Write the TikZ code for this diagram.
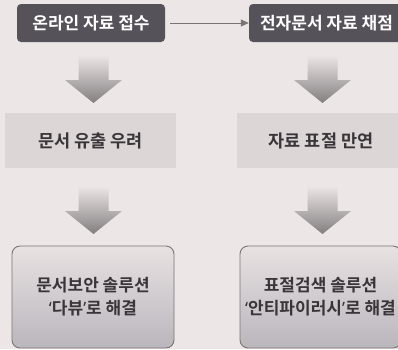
\documentclass[tikz,border=0pt]{standalone}
\usepackage{fontspec}
\setmainfont{Noto Sans CJK KR}[BoldFont={Noto Sans CJK KR Bold}]
\newfontfamily\quotefont{Noto Sans}
\usetikzlibrary{positioning,arrows.meta}
\definecolor{paper}{HTML}{EDE6E7}
\definecolor{darkbox}{HTML}{55525A}
\definecolor{midbox}{HTML}{DCD6D7}
\definecolor{inkgray}{HTML}{3A3538}
\definecolor{linegray}{HTML}{7A7472}
\definecolor{fixlow}{HTML}{B9B6BC}
\newcommand{\openq}{{\quotefont\bfseries ‘}}
\newcommand{\closeq}{{\quotefont\bfseries ’}}

\begin{document}
\begin{tikzpicture}[x=1pt, y=-1pt,
	headbox/.style={fill=darkbox, rounded corners=4pt, text=white, minimum height=38pt,
		inner sep=0pt, font=\fontsize{17}{20}\selectfont\bfseries},
	issuebox/.style={fill=midbox, minimum height=55pt, inner sep=0pt, text=inkgray,
		font=\fontsize{17.5}{20}\selectfont\bfseries},
	fixbox/.style={draw=linegray, line width=0.9pt, rounded corners=8pt, top color=black!2!paper,
		bottom color=fixlow, minimum height=102pt, inner sep=0pt, text=inkgray,
		align=center, font=\fontsize{17}{23}\selectfont\bfseries},
	fatdown/.pic={
		\shade[top color=paper, middle color=black!25!paper, bottom color=black!45!paper]
			(-15,-24) -- (15,-24) -- (15,1) -- (28.5,1) -- (0,24) -- (-28.5,1) -- (-15,1) -- cycle;
	}]
	\useasboundingbox[fill=paper] (0,0) rectangle (398,349);

	% top row
	\node (online) [headbox, minimum width=148pt] at (91,23) {온라인 자료 접수};
	\node (scoring) [headbox, minimum width=155pt] at (326.5,23) {전자문서 자료 채점};
	\draw[linegray, line width=0.8pt, -{Triangle[length=8pt,width=7pt]}] (online.east) ++(5,0) -- (scoring.west);

	% problems
	\node (leak) [issuebox, minimum width=171pt] at (90.5,140.5) {문서 유출 우려};
	\node (copy) [issuebox, minimum width=168pt] at (321,140.5) {자료 표절 만연};

	% solutions
	\node (daview) [fixbox, minimum width=162pt] at (93,297) {문서보안 솔루션\\\openq 다뷰\closeq 로 해결};
	\node (antipiracy) [fixbox, minimum width=161pt] at (320.5,297) {표절검색 솔루션\\\openq 안티파이러시\closeq 로 해결};

	% flow arrows
	\pic (down1) at (93.5,79) {fatdown};
	\pic (down2) at (322.5,79) {fatdown};
	\pic (down3) at (93.5,210) {fatdown};
	\pic (down4) at (322.5,210) {fatdown};
\end{tikzpicture}
\end{document}
